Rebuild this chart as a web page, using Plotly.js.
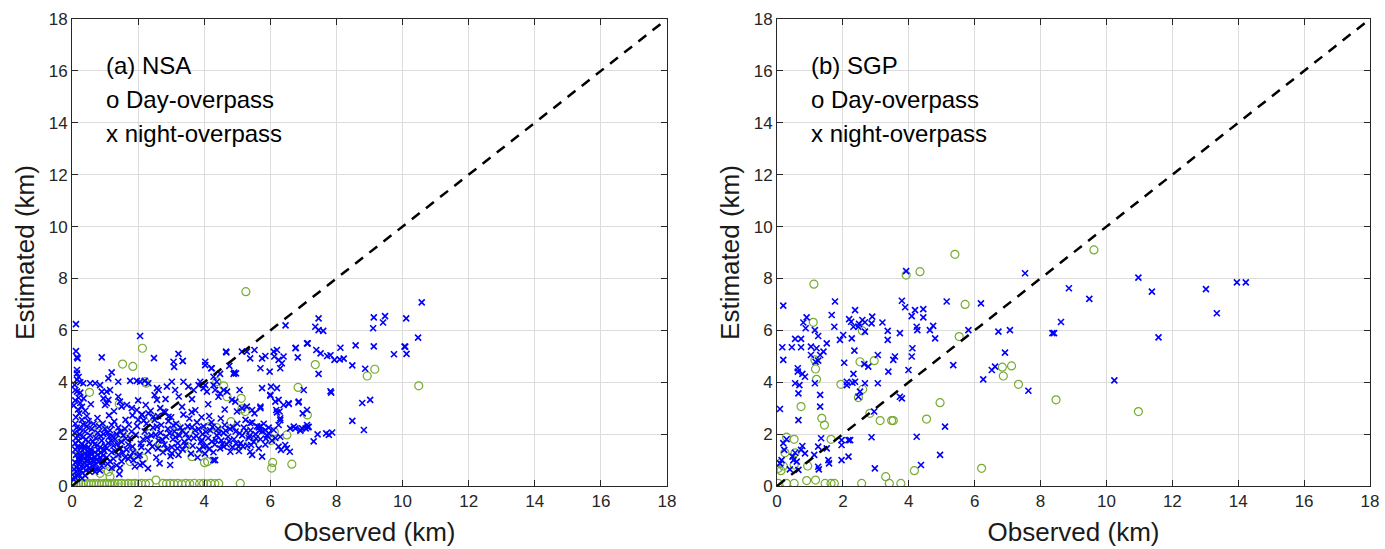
<!DOCTYPE html>
<html>
<head>
<meta charset="utf-8">
<script src="https://cdn.plot.ly/plotly-3.0.1.min.js"></script>
<style>html,body{margin:0;padding:0;background:#fff;}#chart{width:1385px;height:549px;}</style>
</head>
<body>
<div id="chart"></div>
<script>
// ---------- Data (km) ----------
const tickVals = [0, 2, 4, 6, 8, 10, 12, 14, 16, 18];
const oneToOne = [0, 18];

// NSA, day-overpass (o)
const nsaDay = [
 [0.05,0.1],[0.12,0.09],[0.2,0.1],[0.27,0.08],[0.34,0.1],[0.42,0.09],[0.5,0.1],[0.58,0.08],[0.66,0.1],[0.74,0.09],
 [0.82,0.1],[0.9,0.08],[0.98,0.1],[1.06,0.09],[1.14,0.1],[1.22,0.08],[1.3,0.1],[1.4,0.09],[1.5,0.1],[1.6,0.08],
 [1.7,0.1],[1.8,0.09],[1.9,0.1],[2.0,0.08],[2.1,0.1],[2.22,0.09],[2.34,0.1],[2.54,0.23],[2.75,0.1],[2.86,0.09],
 [2.97,0.1],[3.08,0.09],[3.2,0.1],[3.32,0.08],[3.44,0.1],[3.56,0.09],[3.7,0.1],[3.86,0.09],[3.98,0.1],[4.08,0.08],
 [4.2,0.1],[4.32,0.09],[4.44,0.1],[5.09,0.1],
 [5.26,7.49],[2.13,5.31],[1.53,4.70],[1.84,4.61],[0.53,3.61],[1.43,3.16],[2.21,4.02],[2.24,3.96],[2.38,2.67],
 [4.59,3.86],[5.12,3.38],[5.14,2.97],[5.24,2.87],[6.84,3.80],[7.12,2.74],[6.5,1.97],[6.02,1.75],[6.12,2.09],
 [6.07,0.91],[6.04,0.69],[6.65,0.84],[4.38,2.25],[4.15,2.29],[4.01,0.90],[4.1,0.94],[3.17,2.31],[3.19,2.03],
 [3.53,2.09],[2.36,2.03],[2.67,1.65],[2.72,1.52],[3.42,1.52],[3.63,1.13],[3.98,1.39],[1.81,1.26],[1.91,1.20],
 [1.76,0.94],[2.16,1.07],[1.51,2.03],[1.45,1.9],[1.43,1.26],[1.15,0.74],[1.10,0.55],[1.15,0.36],[0.85,0.49],
 [0.60,2.29],[0.85,2.33],[0.65,1.90],[0.09,1.13],[0.14,0.46],[0.39,1.16],[0.04,0.62],[7.36,4.68],[8.93,4.24],
 [9.16,4.50],[10.49,3.86],[4.38,4.02],[4.69,3.44],[4.81,2.48],[4.13,2.22],[5.55,1.80],[5.37,1.75],[5.04,1.52]
];

// NSA, night-overpass (x)
const nsaNight = [
 // dense cluster near origin
 [0.08,0.35],[0.12,0.55],[0.15,0.72],[0.1,0.9],[0.18,1.05],[0.12,1.2],[0.2,0.45],[0.25,0.62],[0.22,0.85],[0.28,1.0],
 [0.3,1.15],[0.26,1.3],[0.32,0.5],[0.35,0.7],[0.38,0.9],[0.36,1.08],[0.4,1.25],[0.42,0.6],[0.45,0.8],[0.48,1.0],
 [0.5,1.18],[0.46,1.35],[0.52,0.68],[0.55,0.88],[0.58,1.05],[0.6,1.22],[0.56,1.4],[0.62,0.75],[0.65,0.95],[0.68,1.12],
 [0.7,1.3],[0.72,0.85],[0.75,1.02],[0.78,1.2],[0.8,1.38],[0.82,0.95],[0.85,1.1],[0.88,1.28],[0.9,0.78],[0.92,1.0],
 [0.95,1.18],[0.98,1.35],[0.15,0.4],[0.05,0.25],[0.3,0.3],[0.4,0.4],[0.2,0.65],[0.33,0.82],[0.44,0.95],[0.53,0.55],
 [0.63,1.0],[0.73,0.65],[0.84,0.6],[0.1,1.4],[0.16,1.5],[0.24,1.15],[0.37,1.45],[0.5,1.5],[0.6,0.62],[0.7,0.55],
 // cluster up to 2 km
 [0.1,1.65],[0.12,1.85],[0.08,2.05],[0.14,2.25],[0.1,2.4],[0.2,1.75],[0.22,2.0],[0.25,2.2],[0.3,1.6],[0.35,1.9],
 [0.4,2.1],[0.45,2.3],[0.38,1.55],[0.5,1.7],[0.55,1.95],[0.6,2.2],[0.65,2.4],[0.68,1.6],[0.72,1.85],[0.78,2.05],
 [0.82,2.3],[0.85,1.5],[0.9,1.75],[0.95,2.0],[1.0,2.2],[1.05,1.45],[1.1,1.65],[1.12,1.9],[1.15,2.15],[1.2,2.35],
 [1.2,1.3],[1.25,1.55],[1.3,1.8],[1.35,2.0],[1.4,2.25],[1.4,1.2],[1.45,1.45],[1.5,1.7],[1.55,1.95],[1.6,2.2],
 [1.6,1.1],[1.65,1.4],[1.7,1.6],[1.75,1.85],[1.8,2.1],[1.05,1.1],[1.15,0.95],[1.25,1.05],[1.0,1.55],[0.95,1.4],
 [1.3,1.35],[1.08,0.85],[1.35,0.8],[1.5,0.95],[1.7,1.05],[1.85,1.3],[1.9,0.75],[1.45,0.7],[1.2,0.7],[2.0,1.15],
 // column near x=0
 [0.12,6.24],[0.12,5.2],[0.15,4.97],[0.17,4.92],[0.15,4.47],[0.15,4.34],[0.2,4.2],[0.15,4.1],[0.25,4.0],[0.1,3.7],
 [0.15,3.64],[0.2,3.4],[0.1,3.3],[0.25,3.2],[0.35,3.38],[0.3,3.05],[0.18,2.95],[0.22,2.8],[0.4,2.9],[0.12,2.65],
 [0.3,2.55],[0.45,2.7],[0.5,2.5],[0.05,3.1],[0.08,3.9],[0.25,3.6],
 // upper, x < 3.4
 [0.9,4.96],[1.2,4.38],[1.1,4.15],[1.4,4.02],[1.76,4.05],[1.96,4.05],[2.06,4.02],[2.31,3.96],[2.57,3.77],[2.62,3.7],
 [2.87,3.83],[3.02,4.02],[3.12,3.7],[0.34,3.96],[0.55,3.96],[0.7,3.96],[0.85,3.89],[0.9,3.64],[1.05,3.64],[1.15,3.7],
 [0.95,3.38],[1.1,3.32],[1.05,3.19],[1.0,3.12],[1.4,3.44],[1.45,3.25],[1.5,3.06],[1.66,3.12],[1.81,3.0],[1.96,2.93],
 [2.11,2.74],[2.31,2.8],[2.46,2.67],[2.57,3.32],[2.67,3.0],[2.77,2.87],[2.92,2.67],[2.06,5.78],[2.48,4.93],[3.09,4.59],
 [3.07,4.79],[3.22,5.09],[3.35,4.82],[2.2,4.05],[2.5,3.5],[2.0,3.3],
 // band 2 - 3.3 km
 [2.05,1.2],[2.1,1.5],[2.15,1.8],[2.2,2.1],[2.25,2.4],[2.3,1.35],[2.35,1.65],[2.4,1.95],[2.45,2.25],[2.5,2.55],
 [2.55,1.1],[2.6,1.45],[2.62,1.75],[2.68,2.05],[2.7,2.35],[2.75,1.3],[2.8,1.6],[2.85,1.9],[2.9,2.2],[2.92,2.5],
 [2.98,1.15],[3.02,1.5],[3.05,1.8],[3.1,2.1],[3.15,2.4],[3.2,1.65],[3.25,1.95],[3.28,2.25],[2.0,2.55],[2.12,2.75],
 [2.38,2.9],[2.6,2.7],[2.82,2.85],[3.0,2.65],[2.3,0.68],[2.65,0.87],[2.97,0.81],[1.43,0.46],[3.19,1.45],[3.22,1.2],
 [3.02,1.26],[2.06,0.81],[2.14,0.87],[1.86,1.0],[1.76,1.13],
 // band 3.3 - 4.8 km
 [3.35,1.4],[3.4,1.7],[3.45,2.0],[3.5,2.3],[3.55,2.6],[3.6,1.25],[3.65,1.55],[3.68,1.85],[3.72,2.15],[3.78,2.45],
 [3.8,1.1],[3.85,1.4],[3.9,1.7],[3.95,2.0],[3.98,2.3],[4.02,1.25],[4.08,1.55],[4.12,1.85],[4.18,2.15],[4.22,2.45],
 [4.28,1.3],[4.32,1.6],[4.38,1.95],[4.42,2.2],[4.48,1.45],[4.52,1.75],[4.58,2.05],[4.62,2.35],[4.68,1.6],[4.72,1.9],
 [4.78,2.2],[3.37,2.75],[3.62,2.85],[3.92,2.65],[4.15,2.7],[4.5,2.6],[4.33,1.0],[3.93,1.77],[4.23,1.71],[4.59,1.52],
 [4.79,1.32],[4.28,1.0],
 // band 4.8 - 7.2 km
 [4.85,1.5],[4.9,1.8],[4.95,2.1],[5.0,2.4],[5.05,1.35],[5.1,1.65],[5.15,1.95],[5.2,2.25],[5.25,2.55],[5.3,1.55],
 [5.35,1.85],[5.4,2.15],[5.45,2.45],[5.5,1.7],[5.55,2.0],[5.6,2.3],[5.65,1.45],[5.7,1.8],[5.75,2.1],[5.8,2.4],
 [5.85,1.6],[5.9,1.95],[5.95,2.25],[6.05,1.75],[6.15,1.85],[5.04,1.52],[5.39,1.32],[5.45,1.2],[5.42,1.58],
 [5.75,1.13],[6.25,1.52],[6.32,1.39],[6.59,1.32],[6.45,1.58],[6.5,1.45],[6.25,2.35],[6.3,2.61],[6.18,2.93],
 [6.28,2.87],[6.4,3.12],[6.71,2.29],[6.96,2.22],[7.11,2.35],[7.16,2.28],[5.70,2.29],[5.85,2.16],[5.95,2.03],[6.1,2.16],
 [6.6,2.22],[6.76,2.22],[6.91,2.16],[4.99,2.87],[5.14,3.0],[5.29,3.06],[5.45,2.93],[5.7,3.0],[5.52,2.80],[5.39,2.42],
 [5.65,2.26],[5.70,3.06],[6.2,2.84],[6.3,2.54],[6.3,1.90],
 // extra scatter in the dense band
 [0.18,1.92],[0.33,2.38],[0.27,1.47],[0.41,1.78],[0.57,1.33],[0.63,1.72],[0.76,1.57],[0.87,1.92],[0.93,2.41],[1.07,2.05],
 [1.18,1.74],[1.28,2.48],[1.37,1.62],[1.47,2.09],[1.53,1.28],[1.63,1.83],[1.72,2.36],[1.83,1.52],[1.93,1.97],[1.97,2.31],
 [2.08,1.63],[2.17,2.53],[2.27,1.86],[2.43,1.52],[2.53,1.97],[2.57,2.29],[2.73,1.79],[2.88,1.42],[2.95,2.03],[3.07,2.33],
 [3.13,1.88],[3.33,2.13],[3.43,1.57],[3.53,1.83],[3.63,2.27],[3.76,1.93],[3.83,2.19],[3.97,1.52],[4.05,2.08],[4.15,1.42],
 [4.25,2.28],[4.35,1.77],[4.45,2.03],[4.55,1.63],[4.65,2.13],[4.75,1.73],[4.87,2.27],[4.97,1.63],[5.07,2.03],[5.17,1.53],
 [5.27,2.13],[5.37,1.93],[5.57,1.83],[5.67,2.13],[5.87,1.83],[0.22,0.97],[0.47,1.12],[0.67,0.82],[0.92,0.92],[0.06,0.65],
 [1.22,1.93],[1.62,2.55],[0.77,2.62],[1.12,2.72],[0.57,3.15],[1.27,2.88],[1.83,2.72],[2.23,3.12],[3.33,3.05],[3.73,2.92],
 [4.12,3.15],[4.62,2.95],[3.23,3.45],[3.63,3.35],[2.83,3.35],
 // upper, 3.3 - 7.2 km
 [3.37,4.02],[3.52,3.83],[3.68,3.70],[3.83,3.89],[3.88,4.02],[3.98,3.77],[4.08,3.64],[4.28,3.89],[4.33,3.70],[4.43,3.44],
 [4.48,3.57],[4.59,3.70],[4.69,3.64],[4.84,3.32],[4.94,3.25],[5.07,3.70],[5.75,3.77],[6.0,3.51],[6.2,3.77],[6.25,3.32],
 [6.55,3.19],[6.86,3.25],[7.01,3.70],[7.11,2.93],[6.02,3.83],[6.15,3.25],[6.0,3.48],
 [4.03,4.79],[4.03,4.66],[4.91,4.37],[5.14,5.18],[5.29,5.18],[5.39,4.92],[5.52,5.24],[5.75,4.92],[5.70,4.54],[5.98,4.41],
 [6.1,5.18],[6.2,5.24],[6.25,4.86],[6.35,4.73],[6.4,4.99],[6.3,4.54],[6.76,5.31],[6.83,4.96],[7.11,5.5],[5.85,5.01],
 [6.12,4.99],[4.67,5.15],[4.76,4.63],[4.48,4.32],[4.28,4.21],[4.21,4.54],[4.89,4.32],[4.96,4.34],[4.38,4.02],[4.03,3.89],
 [4.23,4.54],[3.35,4.82],[4.66,5.18],[6.46,6.19],
 // far right
 [10.58,7.08],[10.11,6.46],[10.47,5.72],[10.08,5.37],[10.12,5.09],[9.74,5.08],[9.47,6.55],[9.41,6.30],[9.13,6.50],[9.11,6.08],
 [9.13,5.38],[8.87,4.52],[9.02,3.32],[8.78,3.20],[8.83,2.16],[8.48,2.51],[8.58,5.42],[8.48,4.65],[8.12,5.33],[8.22,4.91],
 [8.10,4.88],[7.94,4.86],[7.82,5.04],[7.72,5.01],[7.82,3.65],[7.84,3.60],[7.46,6.46],[7.36,6.14],[7.46,6.01],[7.6,5.98],
 [7.13,5.50],[7.39,5.24],[7.52,5.11],[7.46,4.32],[6.77,5.33],[6.56,3.16],[6.85,3.22],[6.98,2.80],[7.07,2.22],[7.13,2.27],
 [6.91,2.13],[7.31,1.72],[7.43,1.99],[7.69,2.03],[7.87,2.06],[7.77,1.97],[10.06,5.37]
];

// SGP, day-overpass (o)
const sgpDay = [
 [5.40,8.93],[4.34,8.26],[3.92,8.13],[1.12,7.78],[1.10,6.31],[2.59,5.98],[5.71,7.0],[5.53,5.76],[1.15,4.86],[1.17,4.51],
 [1.20,4.11],[2.52,4.79],[2.6,3.73],[2.95,4.83],[2.47,3.41],[1.94,3.92],[0.73,3.06],[1.36,2.61],[1.44,2.35],[2.82,2.80],
 [3.13,2.52],[3.48,2.52],[3.53,2.52],[4.95,3.21],[4.54,2.58],[6.84,4.58],[6.87,4.24],[7.12,4.63],[7.33,3.92],[8.47,3.32],
 [10.97,2.87],[9.62,9.10],[0.29,1.88],[0.52,1.80],[1.64,1.80],[0.24,1.28],[0.55,1.28],[0.52,0.81],[0.93,0.77],[0.09,0.87],
 [0.04,0.68],[0.12,0.59],[0.19,0.77],[0.90,0.21],[1.17,0.23],[0.52,0.1],[0.29,0.1],[0.04,0.1],[1.46,0.1],[1.64,0.1],
 [1.74,0.1],[2.57,0.1],[3.41,0.1],[3.76,0.1],[3.30,0.36],[4.17,0.59],[6.21,0.68]
];

// SGP, night-overpass (x)
const sgpNight = [
 [0.19,6.95],[0.09,2.97],[0.16,5.35],[0.19,4.86],[0.45,5.35],[0.55,5.67],[0.73,5.67],[0.73,5.35],[0.63,4.54],[0.63,4.41],
 [0.68,3.89],[0.65,3.57],[0.55,3.96],[0.65,2.54],[0.80,6.30],[0.90,6.50],[0.87,6.08],[1.03,5.37],[1.03,5.05],[1.15,6.01],
 [1.20,5.31],[1.25,5.78],[1.31,5.05],[1.41,5.18],[1.51,5.50],[1.15,3.96],[1.31,3.51],[1.31,3.06],[0.77,4.32],[0.85,4.21],
 [1.25,4.83],[1.17,4.79],[1.34,1.84],[1.25,1.52],[1.51,1.45],[1.56,1.0],[1.58,0.87],[1.25,0.74],[1.27,0.64],[1.13,1.2],
 [0.85,1.26],[0.77,1.54],[0.73,1.39],[0.55,1.28],[0.47,1.13],[0.50,1.0],[0.60,0.94],[0.65,0.62],[0.39,0.64],[0.19,1.65],
 [0.22,1.39],[0.14,1.0],[0.09,0.87],[0.29,1.80],[1.66,6.59],[1.74,6.14],[1.76,7.11],[1.91,5.63],[2.01,5.82],[2.04,4.75],
 [2.12,4.02],[2.12,3.89],[2.29,3.98],[2.19,6.43],[2.25,6.33],[2.27,5.69],[2.32,6.14],[2.37,6.78],[2.35,5.22],[2.32,4.32],
 [2.37,4.02],[2.47,6.14],[2.49,6.25],[2.59,6.40],[2.67,5.95],[2.67,6.31],[2.87,6.27],[2.89,6.53],[3.06,5.05],[3.20,6.30],
 [3.36,5.63],[3.36,5.98],[3.53,4.86],[3.58,4.99],[3.38,4.41],[3.06,3.96],[2.67,3.96],[2.65,4.70],[2.77,4.6],[2.95,2.87],
 [2.47,3.44],[2.52,3.64],[1.96,1.77],[1.96,1.58],[2.17,1.77],[2.22,1.77],[1.96,1.0],[2.17,1.13],[2.87,1.88],[2.97,0.68],
 [3.73,3.44],[3.79,3.38],[3.79,7.14],[3.89,6.89],[3.92,8.28],[3.73,5.89],[3.99,4.47],[4.09,4.99],[4.11,5.31],[4.09,6.55],
 [4.19,6.78],[4.24,6.14],[4.26,6.01],[4.24,1.90],[4.37,0.81],[4.44,6.50],[4.44,6.82],[4.64,6.01],[4.74,6.17],[4.8,5.69],
 [4.95,1.2],[5.10,2.29],[5.15,7.11],[5.35,4.66],[5.81,6.01],[6.19,7.04],[6.26,4.11],[6.52,4.47],[6.62,4.6],[6.72,5.95],
 [6.92,5.14],[7.07,6.01],[7.53,8.2],[8.86,7.62],[9.48,7.21],[8.62,6.32],[8.36,5.89],[8.41,5.89],[7.63,3.67],[10.24,4.07],
 [10.97,8.03],[11.38,7.49],[11.58,5.73],[13.02,7.59],[13.35,6.66],[13.96,7.85],[14.23,7.85]
];

const panelLabels = ['(a) NSA', '(b) SGP'];
const legendLines = ['o Day-overpass', 'x night-overpass'];

// ---------- Styles ----------
const FONT = 'Liberation Sans, Arial, Helvetica, sans-serif';
const BLUE = '#0000ff';
const GREEN = '#77ac30';
const AXC = '#262626';

function xs(a){ return a.map(p => p[0]); }
function ys(a){ return a.map(p => p[1]); }

function dayTrace(d, xa, ya){
  return {x: xs(d), y: ys(d), xaxis: xa, yaxis: ya, type: 'scatter', mode: 'markers',
    marker: {symbol: 'circle-open', size: 8, color: GREEN, line: {color: GREEN, width: 1.2}},
    hoverinfo: 'skip', showlegend: false};
}
function nightTrace(d, xa, ya){
  return {x: xs(d), y: ys(d), xaxis: xa, yaxis: ya, type: 'scatter', mode: 'markers',
    marker: {symbol: 'x-thin-open', size: 6, color: BLUE, line: {color: BLUE, width: 1.6}},
    hoverinfo: 'skip', showlegend: false};
}
function lineTrace(xa, ya){
  return {x: oneToOne, y: oneToOne, xaxis: xa, yaxis: ya, type: 'scatter', mode: 'lines',
    line: {color: '#000', width: 2.5, dash: '10px,8px'}, hoverinfo: 'skip', showlegend: false};
}

const data = [
  dayTrace(nsaDay, 'x', 'y'), nightTrace(nsaNight, 'x', 'y'), lineTrace('x', 'y'),
  dayTrace(sgpDay, 'x2', 'y2'), nightTrace(sgpNight, 'x2', 'y2'), lineTrace('x2', 'y2')
];

function axis(extra){
  return Object.assign({
    range: [0, 18], tickvals: tickVals, ticktext: tickVals.map(String),
    showgrid: true, gridcolor: '#dcdcdc', gridwidth: 1, zeroline: false,
    showline: true, linecolor: AXC, linewidth: 1, mirror: 'ticks',
    ticks: 'inside', ticklen: 6, tickcolor: AXC, tickwidth: 1,
    tickfont: {family: FONT, size: 17, color: AXC}, fixedrange: true
  }, extra);
}

const titleFont = {family: FONT, size: 26, color: '#1a1a1a'};
const L = 72, R = 15, W = 1385;
const pw = W - L - R;

const annotations = [];
[['x','y'],['x2','y2']].forEach((ax, i) => {
  [panelLabels[i], legendLines[0], legendLines[1]].forEach((t, k) => {
    annotations.push({xref: ax[0], yref: ax[1], x: 0.96, y: [16.2, 14.88, 13.6][k],
      xanchor: 'left', yanchor: 'middle', text: t, showarrow: false,
      font: {family: FONT, size: 24, color: '#000'}});
  });
});

const layout = {
  width: 1385, height: 549,
  margin: {l: L, r: R, t: 19, b: 63},
  paper_bgcolor: '#fff', plot_bgcolor: '#fff',
  xaxis: axis({domain: [0, (667 - L) / pw], anchor: 'y',
    title: {text: 'Observed (km)', font: titleFont, standoff: 12}}),
  yaxis: axis({domain: [0, 1], anchor: 'x',
    title: {text: 'Estimated (km)', font: titleFont, standoff: 6}}),
  xaxis2: axis({domain: [(777 - L) / pw, 1], anchor: 'y2',
    title: {text: 'Observed (km)', font: titleFont, standoff: 12}}),
  yaxis2: axis({domain: [0, 1], anchor: 'x2',
    title: {text: 'Estimated (km)', font: titleFont, standoff: 6}}),
  annotations: annotations,
  showlegend: false
};

Plotly.newPlot('chart', data, layout, {displayModeBar: false, staticPlot: true});
</script>
</body>
</html>
